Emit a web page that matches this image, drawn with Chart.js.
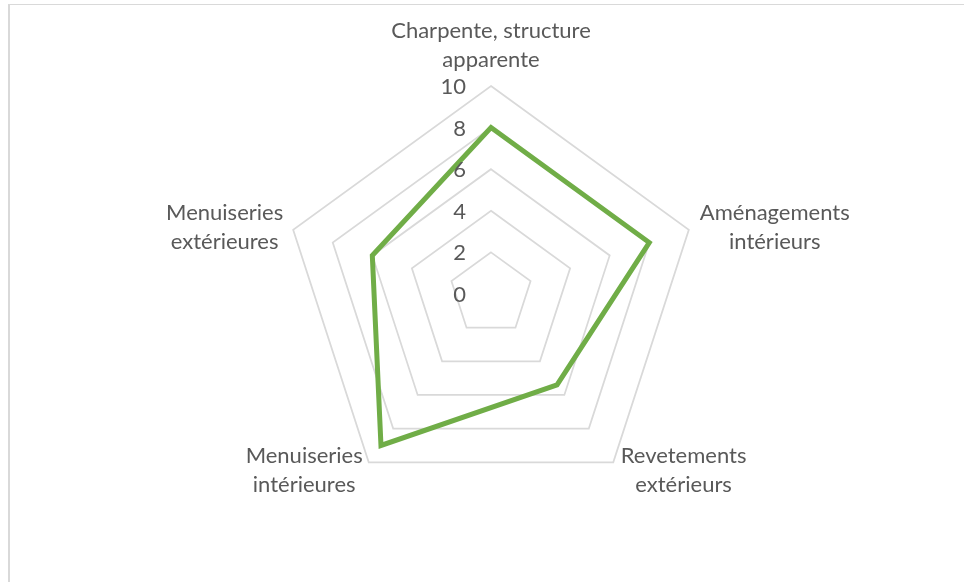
<!DOCTYPE html>
<html><head><meta charset="utf-8">
<script src="https://cdn.jsdelivr.net/npm/chart.js@4.4.0/dist/chart.umd.min.js"></script>
<style>
html,body{margin:0;padding:0;background:#fff;}
#wrap{position:relative;width:964px;height:582px;overflow:hidden;}
#frame{position:absolute;left:8px;top:4px;width:1200px;height:900px;border-left:2px solid #d9d9d9;border-top:1px solid #d9d9d9;}
canvas{position:absolute;left:0;top:0;}
</style></head><body>
<div id="wrap"><div id="frame"></div><canvas id="c" width="964" height="582"></canvas></div>
<script>
const categories = [
  ['Charpente, structure', 'apparente'],
  ['Aménagements', 'intérieurs'],
  ['Revetements', 'extérieurs'],
  ['Menuiseries', 'intérieures'],
  ['Menuiseries', 'extérieures']
];
const seriesValues = [8, 8, 5.4, 9, 6];
const tickLabels = [0, 2, 4, 6, 8, 10];

const TEXT_COLOR = '#595959';
const FONT_FAMILY = 'Lato, "Open Sans", sans-serif';

let fontSize = null;
function getFontSize(ctx) {
  if (fontSize) return fontSize;
  ctx.save();
  ctx.font = '24px ' + FONT_FAMILY;
  const w = ctx.measureText('Charpente, structure').width;
  ctx.restore();
  fontSize = Math.round(24 * 200 / w * 10) / 10;
  return fontSize;
}

const labelPlugin = {
  id: 'excelLabels',
  afterDraw(chart) {
    const ctx = chart.ctx;
    const s = chart.scales.r;
    const fs = getFontSize(ctx);
    ctx.save();
    ctx.font = fs + 'px ' + FONT_FAMILY;
    ctx.fillStyle = TEXT_COLOR;
    ctx.textBaseline = 'middle';
    ctx.textAlign = 'center';
    const lh = 29;
    categories.forEach((lines, i) => {
      const p = s.getPointPosition(i, s.drawingArea);
      const w = Math.max(...lines.map(l => ctx.measureText(l).width));
      const dx = p.x - s.xCenter;
      const upper = p.y < s.yCenter;
      let cx, cy;
      if (Math.abs(dx) < 1) {
        cx = p.x; cy = p.y - 40.5;
      } else if (dx > 0) {
        cx = p.x + (upper ? 11 : 7.5) + w / 2;
        cy = p.y + (upper ? -2.5 : 7.7);
      } else {
        cx = p.x - (upper ? 10 : 6) - w / 2;
        cy = p.y + (upper ? -2.5 : 7.7);
      }
      lines.forEach((l, k) => ctx.fillText(l, cx, cy + (k - (lines.length - 1) / 2) * lh));
    });
    ctx.textAlign = 'right';
    tickLabels.forEach(v => {
      const y = s.yCenter - s.getDistanceFromCenterForValue(v);
      ctx.fillText(String(v), s.xCenter - 25, y + 1);
    });
    ctx.restore();
  }
};

new Chart(document.getElementById('c'), {
  type: 'radar',
  data: {
    labels: categories,
    datasets: [{
      data: seriesValues,
      borderColor: '#70ad47',
      borderWidth: 5,
      borderJoinStyle: 'miter',
      pointRadius: 0,
      pointHoverRadius: 0,
      fill: false,
      tension: 0
    }]
  },
  options: {
    responsive: false,
    animation: false,
    devicePixelRatio: 1,
    layout: { padding: { left: 283, top: 86, right: 265, bottom: 80 } },
    plugins: { legend: { display: false }, tooltip: { enabled: false }, title: { display: false } },
    scales: {
      r: {
        min: 0,
        max: 10,
        ticks: { stepSize: 2, display: false },
        grid: { color: '#d9d9d9', lineWidth: 1.75 },
        angleLines: { display: false },
        pointLabels: { display: false }
      }
    }
  },
  plugins: [labelPlugin]
});
</script>
</body></html>
